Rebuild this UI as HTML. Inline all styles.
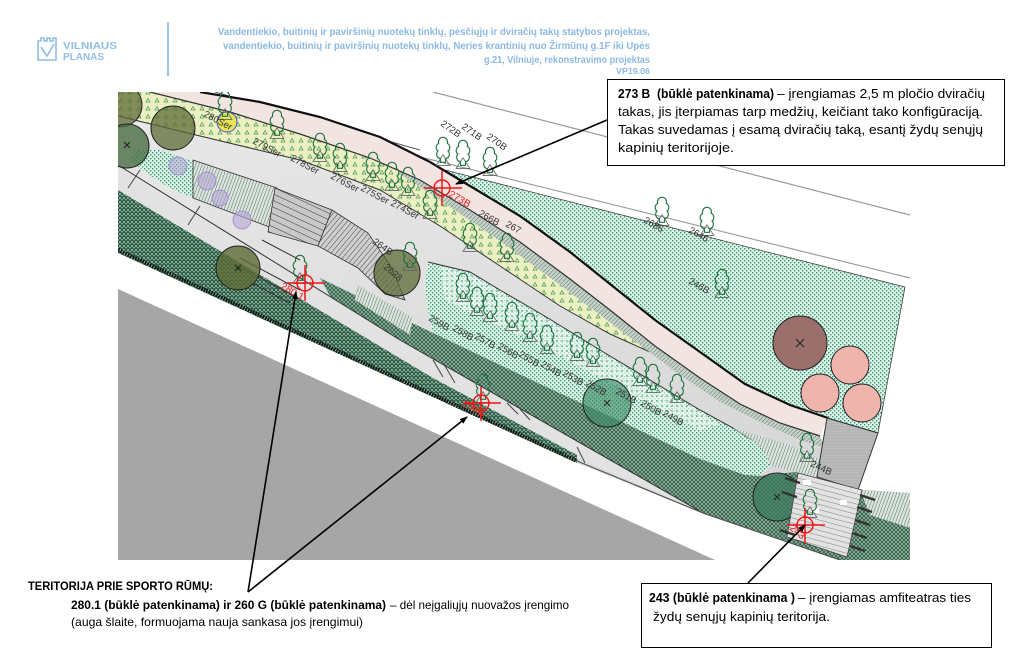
<!DOCTYPE html>
<html><head><meta charset="utf-8">
<style>
html,body{margin:0;padding:0;background:#fff;}
svg{display:block;}
text{font-family:"Liberation Sans",sans-serif;white-space:pre;}
</style></head><body>
<svg width="1024" height="658" viewBox="0 0 1024 658" xmlns="http://www.w3.org/2000/svg">
<defs>
<pattern id="dots" width="4" height="4" patternUnits="userSpaceOnUse"><rect width="4" height="4" fill="#e0f2e9"/><rect width="1.4" height="1.4" fill="#2e9d70"/><rect x="2" y="2" width="1.4" height="1.4" fill="#2e9d70"/></pattern>
<pattern id="dots2" width="5" height="5" patternUnits="userSpaceOnUse"><rect width="5" height="5" fill="#eef8f3"/><path d="M1,1h2M2,0v2" stroke="#2e9d70" stroke-width="0.8"/></pattern>
<pattern id="xh" width="4" height="4" patternUnits="userSpaceOnUse"><rect width="4" height="4" fill="#98b7a5"/><path d="M0,0L4,4M4,0L0,4" stroke="#2a5a42" stroke-width="0.85"/></pattern>
<pattern id="xh2" width="4" height="4" patternUnits="userSpaceOnUse"><rect width="4" height="4" fill="#9abaa8"/><path d="M0,0L4,4M4,0L0,4" stroke="#1f4e38" stroke-width="0.85"/><rect x="1.5" y="0" width="1" height="1" fill="#0c5a3a"/></pattern>
<pattern id="vh" width="3" height="3" patternUnits="userSpaceOnUse" patternTransform="rotate(20)"><rect width="3" height="3" fill="#dbe4de"/><path d="M0,0V3" stroke="#3d5a49" stroke-width="0.85"/></pattern>
<pattern id="strip" width="3" height="3" patternUnits="userSpaceOnUse" patternTransform="rotate(45)"><rect width="3" height="3" fill="#c6d2ca"/><path d="M0,0V3" stroke="#4f6a5a" stroke-width="0.9"/></pattern>
<pattern id="yel" width="9" height="8" patternUnits="userSpaceOnUse"><rect width="9" height="8" fill="#eaf0c2"/><path d="M2,6 L4,2.5 L6,6 Z" fill="none" stroke="#4f9356" stroke-width="0.7"/></pattern>
<pattern id="stair" width="6" height="6" patternUnits="userSpaceOnUse" patternTransform="rotate(25)"><rect width="6" height="6" fill="#c8c8c8"/><path d="M0,0H6" stroke="#222" stroke-width="0.9"/></pattern>
<pattern id="fan" width="4" height="4" patternUnits="userSpaceOnUse" patternTransform="rotate(-50)"><rect width="4" height="4" fill="#cfcfcf"/><path d="M0,0H4" stroke="#222" stroke-width="0.8"/></pattern>
<pattern id="amph" width="5" height="5" patternUnits="userSpaceOnUse" patternTransform="rotate(15)"><rect width="5" height="5" fill="#e2e2e2"/><path d="M0,0H5" stroke="#555" stroke-width="0.7"/></pattern>
<pattern id="sq" width="3" height="3" patternUnits="userSpaceOnUse"><rect width="3" height="3" fill="#b9b9b9"/><path d="M0,0H3" stroke="#a5a5a5" stroke-width="0.6"/></pattern>
<linearGradient id="pathg" x1="0" y1="0" x2="0.3" y2="1"><stop offset="0" stop-color="#e8e8e8"/><stop offset="1" stop-color="#d6d6d6"/></linearGradient>
<clipPath id="mapclip"><rect x="118" y="92" width="792" height="468"/></clipPath>
<marker id="arr" markerWidth="8" markerHeight="6" refX="7" refY="3" orient="auto" markerUnits="userSpaceOnUse"><path d="M0,0 L8,3 L0,6 Z" fill="#000"/></marker>
<symbol id="tree" viewBox="0 0 14 24">
<path d="M1.5,23.5 L7,15 L12.5,23.5 Z" fill="none" stroke="#666" stroke-width="0.7"/>
<path d="M7,1 C10,1 11,4 10.5,6 C13,7 13,11 11,12 C13,14 12,18 9,18 L9,21 L5,21 L5,18 C2,18 1,14 3,12 C1,11 1,7 3.5,6 C3,4 4,1 7,1 Z" fill="none" stroke="#1f7440" stroke-width="0.9"/>
</symbol>
</defs>

<!-- header -->
<g fill="none" stroke="#8fbde6" stroke-width="1.6">
<path d="M38,60 V41 h3 v-3 h3 v3 h3 v-3 h3 v3 h3 v-3 h3 v3 V60 Z"/>
<path d="M41,47 L47,56 L54,44"/>
</g>
<text x="63" y="49" font-size="10.5" font-weight="bold" fill="#8fbde6" textLength="54" lengthAdjust="spacingAndGlyphs">VILNIAUS</text>
<text x="63" y="60" font-size="10.5" font-weight="bold" fill="#8fbde6" textLength="41" lengthAdjust="spacingAndGlyphs">PLANAS</text>
<line x1="168" y1="22" x2="168" y2="76" stroke="#9cc3e6" stroke-width="2"/>
<g font-size="10" font-weight="bold" fill="#8cb8e2">
<text x="218" y="35" textLength="432" lengthAdjust="spacingAndGlyphs">Vandentiekio, buitinių ir paviršinių nuotekų tinklų, pėsčiųjų ir dviračių takų statybos projektas,</text>
<text x="223" y="49" textLength="427" lengthAdjust="spacingAndGlyphs">vandentiekio, buitinių ir paviršinių nuotekų tinklų, Neries krantinių nuo Žirmūnų g.1F iki Upės</text>
<text x="484" y="63" textLength="166" lengthAdjust="spacingAndGlyphs">g.21, Vilniuje, rekonstravimo projektas</text>
<text x="616" y="74" font-size="8.5" textLength="34" lengthAdjust="spacingAndGlyphs">VP19.06</text>
</g>

<!-- gray triangle -->
<polygon points="118,289 118,560 715,560" fill="#a6a6a6"/>

<g clip-path="url(#mapclip)">
<line x1="433" y1="92" x2="910" y2="215" stroke="#9a9a9a" stroke-width="1.2"/>
<line x1="400" y1="152" x2="910" y2="278" stroke="#9a9a9a" stroke-width="1.2"/>
<line x1="215" y1="92" x2="420" y2="150" stroke="#555" stroke-width="1"/>
<!-- cemetery -->
<polygon points="445,170 905,287 878,433 828,418 790,405 745,384 700,352 655,320 610,284 570,252 520,216 470,186" fill="url(#dots)" stroke="#444" stroke-width="0.8"/>
<!-- light gray base -->
<polygon points="118,116 200,136 300,160 380,190 440,226 500,266 560,306 610,334 650,352 680,375 720,402 760,422 800,440 825,448 822,460 817,477 860,490 910,493 910,560 840,560 703,513 577,463 118,253" fill="url(#pathg)"/>
<!-- yellow band -->
<polygon points="118,92 150,92 230,112 300,134 370,158 400,171 440,200 500,241 560,285 620,330 650,352 610,334 560,306 500,266 440,226 380,190 300,160 200,136 118,116" fill="url(#yel)"/>
<polyline points="118,116 200,136 300,160 380,190 440,226 500,266 560,306 610,334 650,352" fill="none" stroke="#333" stroke-width="1"/>
<!-- strip -->
<polygon points="400,171 420,180 470,210 520,242 570,279 610,310 655,346 700,378 740,404 780,423 820,436 825,448 800,440 760,422 720,402 680,375 620,330 560,285 500,241 440,200 400,174" fill="url(#strip)"/>
<!-- pink path -->
<polygon points="200,92 260,102 320,117 380,137 430,162 470,186 520,216 570,252 610,284 655,320 700,352 745,384 790,405 828,418 820,436 780,423 740,404 700,378 655,346 610,310 570,279 520,242 470,210 420,180 370,158 300,134 230,112 150,92" fill="#f2e4e0"/>
<polyline points="200,92 260,102 320,117 380,137 430,162 470,186 520,216 570,252 610,284 655,320 700,352 745,384 790,405 828,418" fill="none" stroke="#111" stroke-width="2.2"/>
<polyline points="820,436 780,423 740,404 700,378 655,346 610,310 570,279 520,242 470,210 420,180 370,158 300,134 230,112 150,92" fill="none" stroke="#333" stroke-width="1.2"/>
<!-- G2 dotted -->
<polygon points="428,262 470,272 500,290 543,315 600,350 650,380 700,410 733,428 752,440 765,452 770,466 760,476 745,475 700,459 620,421 540,384 433,333 428,310 425,285" fill="url(#dots)"/>
<polygon points="440,266 470,274 500,292 543,317 600,352 650,382 700,412 720,425 700,430 650,405 600,378 540,345 470,312 445,300" fill="url(#dots2)" opacity="0.7"/>
<polyline points="428,262 470,272 500,290 543,315 600,350 650,380 700,410 733,428 752,440" fill="none" stroke="#333" stroke-width="1"/>
<!-- hatched slope -->
<polygon points="733,428 790,445 822,460 817,477 795,472 770,466 765,452 752,440" fill="url(#vh)"/>
<!-- D band -->
<polygon points="320,278 433,333 540,384 620,421 700,459 745,475 760,476 795,472 860,490 910,493 910,560 840,560 703,513 400,340 330,296" fill="url(#xh)"/>
<polygon points="860,490 910,493 910,528 870,515" fill="url(#vh)"/>
<!-- P2 path -->
<polygon points="118,165 400,340 703,513 577,458 433,378 118,190" fill="#e2e2e2"/>
<polyline points="118,165 400,340 703,513" fill="none" stroke="#333" stroke-width="1"/>
<g stroke="#444" stroke-width="1">
<line x1="433" y1="360" x2="443" y2="377"/><line x1="445" y1="366" x2="455" y2="383"/>
<line x1="507" y1="403" x2="518" y2="414"/><line x1="520" y1="409" x2="530" y2="420"/>
<line x1="577" y1="447" x2="585" y2="463"/>
<line x1="140" y1="170" x2="128" y2="188"/><line x1="200" y1="206" x2="188" y2="225"/>
</g>
<!-- S_low -->
<polygon points="118,190 433,378 577,455 577,463 118,253" fill="url(#xh2)"/>
<line x1="118" y1="250" x2="577" y2="461" stroke="#111" stroke-width="4" stroke-dasharray="1.5 1.2"/>
<line x1="577" y1="461" x2="703" y2="513" stroke="#555" stroke-width="1.2"/>
<line x1="703" y1="513" x2="840" y2="560" stroke="#555" stroke-width="1.2"/>
<!-- left overlays -->
<polygon points="135,150 160,150 190,160 198,178 193,198 170,188 145,172 130,160" fill="url(#dots)"/>
<polygon points="193,160 277,188 272,228 193,198" fill="url(#vh)" stroke="#333" stroke-width="0.8"/>
<polygon points="275,188 332,210 318,246 268,232" fill="url(#stair)" stroke="#333" stroke-width="0.8"/>
<polygon points="332,210 368,233 392,268 405,300 385,294 358,268 318,246" fill="url(#fan)" stroke="#333" stroke-width="0.8"/>
<polygon points="358,285 413,318 410,335 355,300" fill="url(#vh)"/>
<g stroke="#333" stroke-width="1">
<line x1="240" y1="258" x2="300" y2="290"/><line x1="238" y1="266" x2="298" y2="298"/><line x1="250" y1="282" x2="290" y2="303"/>
<line x1="262" y1="240" x2="300" y2="260"/>
</g>
<g fill="#b8a6d8" fill-opacity="0.6" stroke="#9a88c8" stroke-width="0.8">
<circle cx="178" cy="166" r="9"/><circle cx="207" cy="181" r="9"/><circle cx="220" cy="198" r="8"/><circle cx="242" cy="220" r="9"/>
</g>
<!-- circles -->
<g stroke="#222" stroke-width="1">
<circle cx="120" cy="105" r="22" fill="#5d6b35" fill-opacity="0.75"/>
<circle cx="173" cy="128" r="22" fill="#5d6b35" fill-opacity="0.75"/>
<circle cx="127" cy="146" r="22" fill="#4b6e44" fill-opacity="0.8"/>
<circle cx="238" cy="268" r="22" fill="#5d6b35" fill-opacity="0.8"/>
<circle cx="397" cy="273" r="23" fill="#5d6b35" fill-opacity="0.75"/>
<circle cx="607" cy="403" r="24" fill="#3f8a68" fill-opacity="0.65"/>
<circle cx="777" cy="497" r="24" fill="#3b7a5e" fill-opacity="0.7"/>
<circle cx="800" cy="343" r="27" fill="#9b6f6b"/>
<circle cx="850" cy="365" r="19" fill="#efb4ac"/>
<circle cx="820" cy="393" r="19" fill="#efb4ac"/>
<circle cx="862" cy="403" r="19" fill="#efb4ac"/>
</g>
<circle cx="227" cy="122" r="10" fill="#e8e45a" stroke="#4a50d0" stroke-width="1"/>
<g stroke="#222" stroke-width="1">
<path d="M796,339l8,8M804,339l-8,8"/><path d="M124,142l6,6M130,142l-6,6"/><path d="M235,265l6,6M241,265l-6,6"/>
<path d="M604,400l6,6M610,400l-6,6"/><path d="M774,494l6,6M780,494l-6,6"/>
</g>
<!-- gray square & amphitheater -->
<polygon points="827,418 878,433 858,490 817,477" fill="url(#sq)" stroke="#333" stroke-width="1"/>
<polygon points="798,473 862,490 847,557 787,537" fill="url(#amph)" stroke="#444" stroke-width="0.8"/>
<g stroke="#333" stroke-width="2.5">
<line x1="860" y1="495" x2="875" y2="500"/><line x1="857" y1="507" x2="872" y2="512"/><line x1="855" y1="520" x2="870" y2="525"/><line x1="852" y1="533" x2="867" y2="538"/><line x1="850" y1="546" x2="865" y2="551"/>
<line x1="785" y1="478" x2="800" y2="483"/><line x1="782" y1="492" x2="797" y2="497"/><line x1="780" y1="530" x2="795" y2="535"/>
</g>
<g fill="#fff"><rect x="803" y="480" width="8" height="5"/><rect x="812" y="508" width="7" height="5"/><rect x="840" y="500" width="7" height="5"/></g>
<!-- trees -->
<g>
<use href="#tree" x="216" y="90" width="18" height="30"/>
<use href="#tree" x="268" y="109" width="18" height="30"/>
<use href="#tree" x="311" y="132" width="18" height="30"/>
<use href="#tree" x="331" y="142" width="18" height="30"/>
<use href="#tree" x="364" y="151" width="18" height="30"/>
<use href="#tree" x="383" y="161" width="18" height="30"/>
<use href="#tree" x="399" y="166" width="18" height="30"/>
<use href="#tree" x="421" y="189" width="18" height="30"/>
<use href="#tree" x="434" y="136" width="18" height="30"/>
<use href="#tree" x="454" y="139" width="18" height="30"/>
<use href="#tree" x="481" y="146" width="18" height="30"/>
<use href="#tree" x="461" y="222" width="18" height="30"/>
<use href="#tree" x="498" y="232" width="18" height="30"/>
<use href="#tree" x="401" y="241" width="18" height="30"/>
<use href="#tree" x="454" y="272" width="18" height="30"/>
<use href="#tree" x="468" y="286" width="18" height="30"/>
<use href="#tree" x="481" y="292" width="18" height="30"/>
<use href="#tree" x="503" y="301" width="18" height="30"/>
<use href="#tree" x="521" y="312" width="18" height="30"/>
<use href="#tree" x="538" y="324" width="18" height="30"/>
<use href="#tree" x="568" y="331" width="18" height="30"/>
<use href="#tree" x="584" y="337" width="18" height="30"/>
<use href="#tree" x="631" y="356" width="18" height="30"/>
<use href="#tree" x="644" y="363" width="18" height="30"/>
<use href="#tree" x="668" y="373" width="18" height="30"/>
<use href="#tree" x="291" y="254" width="18" height="30"/>
<use href="#tree" x="474" y="373" width="18" height="30"/>
<use href="#tree" x="653" y="196" width="18" height="30"/>
<use href="#tree" x="698" y="206" width="18" height="30"/>
<use href="#tree" x="713" y="268" width="18" height="30"/>
<use href="#tree" x="798" y="432" width="18" height="30"/>
<use href="#tree" x="801" y="488" width="18" height="30"/>
</g>
<!-- labels -->
<g font-size="9.5" fill="#333">
<text transform="translate(203,116) rotate(28)">280Ser</text>
<text transform="translate(252,143) rotate(28)">279Ser</text>
<text transform="translate(290,160) rotate(28)">278Ser</text>
<text transform="translate(330,178) rotate(28)">276Ser</text>
<text transform="translate(360,190) rotate(28)">275Ser</text>
<text transform="translate(390,205) rotate(28)">274Ser</text>
<text transform="translate(372,243) rotate(35)">264B</text>
<text transform="translate(383,268) rotate(40)">2628</text>
<text transform="translate(440,125) rotate(35)">272B</text>
<text transform="translate(461,128) rotate(35)">271B</text>
<text transform="translate(486,138) rotate(35)">270B</text>
<text transform="translate(478,215) rotate(30)">266B</text>
<text transform="translate(505,226) rotate(30)">267</text>
<text transform="translate(643,222) rotate(30)">2686</text>
<text transform="translate(688,232) rotate(30)">2646</text>
<text transform="translate(688,283) rotate(30)">246B</text>
<text transform="translate(428,320) rotate(30)">259B</text>
<text transform="translate(452,330) rotate(30)">258B</text>
<text transform="translate(474,338) rotate(30)">257B</text>
<text transform="translate(497,348) rotate(30)">256B</text>
<text transform="translate(518,356) rotate(30)">255B</text>
<text transform="translate(540,366) rotate(30)">254B</text>
<text transform="translate(562,375) rotate(30)">253B</text>
<text transform="translate(585,385) rotate(30)">252B</text>
<text transform="translate(615,393) rotate(30)">251B</text>
<text transform="translate(640,405) rotate(30)">250B</text>
<text transform="translate(662,415) rotate(30)">249B</text>
<text transform="translate(810,466) rotate(25)">244B</text>
</g>
<!-- red markers -->
<g stroke="#f01818" stroke-width="1.5" fill="none">
<circle cx="442" cy="188" r="8"/><line x1="424" y1="188" x2="462" y2="188"/><line x1="442" y1="170" x2="442" y2="206"/>
<circle cx="305" cy="283" r="8"/><line x1="287" y1="283" x2="325" y2="283"/><line x1="305" y1="265" x2="305" y2="301"/>
<circle cx="481" cy="403" r="8"/><line x1="463" y1="403" x2="501" y2="403"/><line x1="481" y1="387" x2="481" y2="421"/>
<circle cx="805" cy="525" r="8"/><line x1="787" y1="525" x2="825" y2="525"/><line x1="805" y1="508" x2="805" y2="544"/>
</g>
<g font-size="10" fill="#f01818">
<text transform="translate(448,196) rotate(30)">273B</text>
<text transform="translate(280,288) rotate(30)">280.1</text>
<text transform="translate(462,405) rotate(30)">260G</text>
<text transform="translate(789,529) rotate(40)">243</text>
</g>
</g>

<!-- annotation lines -->
<g stroke="#000" stroke-width="1.6" fill="none">
<line x1="607" y1="120" x2="456" y2="184" marker-end="url(#arr)"/>
<line x1="248" y1="592" x2="296" y2="292" marker-end="url(#arr)"/>
<line x1="248" y1="592" x2="467" y2="417" marker-end="url(#arr)"/>
<line x1="748" y1="583" x2="805" y2="525" marker-end="url(#arr)"/>
</g>

<!-- top-right box -->
<rect x="607.5" y="79.5" width="397" height="86" fill="#fff" stroke="#000" stroke-width="1"/>
<g font-size="13" fill="#000">
<text x="618" y="98" font-weight="bold" textLength="156" lengthAdjust="spacingAndGlyphs">273 B  (būklė patenkinama)</text>
<text x="777" y="98" textLength="208" lengthAdjust="spacingAndGlyphs">– įrengiamas 2,5 m pločio dviračių</text>
<text x="618" y="116" textLength="365" lengthAdjust="spacingAndGlyphs">takas, jis įterpiamas tarp medžių, keičiant tako konfigūraciją.</text>
<text x="618" y="134" textLength="365" lengthAdjust="spacingAndGlyphs">Takas suvedamas į esamą dviračių taką, esantį žydų senųjų</text>
<text x="618" y="152" textLength="116" lengthAdjust="spacingAndGlyphs">kapinių teritorijoje.</text>
</g>

<!-- bottom-left text -->
<g font-size="12" fill="#000">
<text x="28" y="590" font-weight="bold" textLength="185" lengthAdjust="spacingAndGlyphs">TERITORIJA PRIE SPORTO RŪMŲ:</text>
<text x="71" y="609" font-weight="bold" textLength="315" lengthAdjust="spacingAndGlyphs">280.1 (būklė patenkinama) ir 260 G (būklė patenkinama)</text>
<text x="390" y="609" textLength="179" lengthAdjust="spacingAndGlyphs">– dėl neįgaliųjų nuovažos įrengimo</text>
<text x="71" y="626" textLength="292" lengthAdjust="spacingAndGlyphs">(auga šlaite, formuojama nauja sankasa jos įrengimui)</text>
</g>

<!-- bottom-right box -->
<rect x="641.5" y="583.5" width="350" height="64" fill="#fff" stroke="#000" stroke-width="1"/>
<g font-size="12.5" fill="#000">
<text x="649" y="602" font-weight="bold" textLength="146" lengthAdjust="spacingAndGlyphs">243 (būklė patenkinama )</text>
<text x="798" y="602" textLength="173" lengthAdjust="spacingAndGlyphs">– įrengiamas amfiteatras ties</text>
<text x="653" y="621" textLength="177" lengthAdjust="spacingAndGlyphs">žydų senųjų kapinių teritorija.</text>
</g>
</svg>
</body></html>
